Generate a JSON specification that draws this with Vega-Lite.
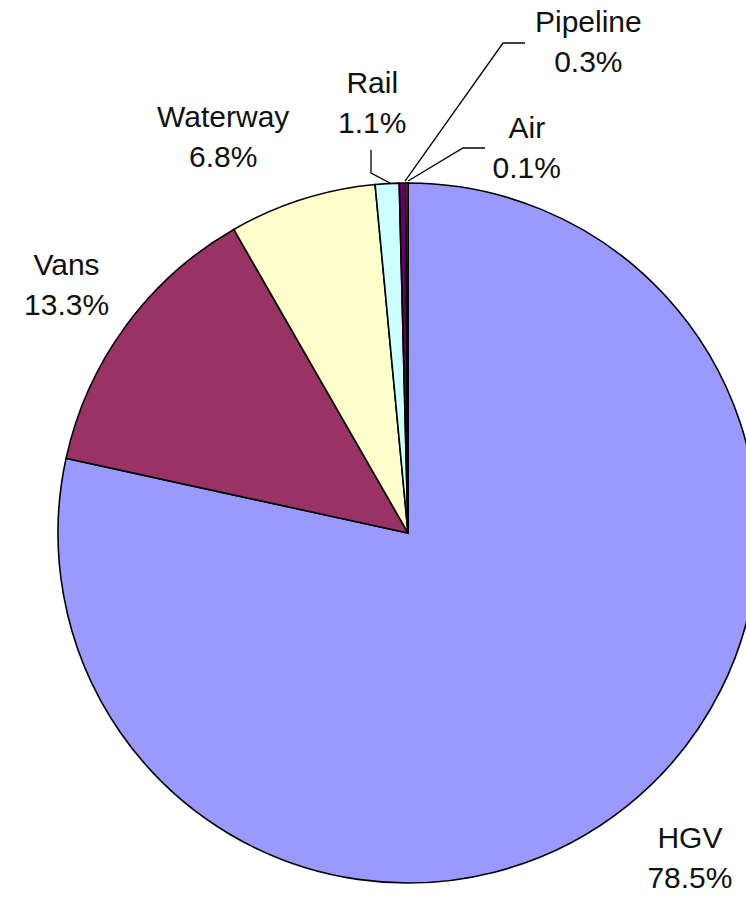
{
  "$schema": "https://vega.github.io/schema/vega-lite/v6.json",
  "width": 746,
  "height": 903,
  "autosize": {"type": "none"},
  "padding": 0,
  "background": "white",
  "config": {"view": {"stroke": null}, "text": {"font": "Liberation Sans"}},
  "datasets": {
    "modes": [
      {"mode": "HGV", "value": 78.5, "order": 1},
      {"mode": "Vans", "value": 13.3, "order": 2},
      {"mode": "Waterway", "value": 6.8, "order": 3},
      {"mode": "Rail", "value": 1.1, "order": 4},
      {"mode": "Pipeline", "value": 0.3, "order": 5},
      {"mode": "Air", "value": 0.1, "order": 6}
    ],
    "leaders": [
      {"seg": "Rail", "pt": 1, "x": -0.05143, "y": 1.0},
      {"seg": "Rail", "pt": 2, "x": -0.10571, "y": 1.02857},
      {"seg": "Rail", "pt": 3, "x": -0.10571, "y": 1.09429},
      {"seg": "Pipeline", "pt": 1, "x": -0.00857, "y": 1.00571},
      {"seg": "Pipeline", "pt": 2, "x": 0.27143, "y": 1.4},
      {"seg": "Pipeline", "pt": 3, "x": 0.33429, "y": 1.4},
      {"seg": "Air", "pt": 1, "x": 0.0, "y": 1.00571},
      {"seg": "Air", "pt": 2, "x": 0.15714, "y": 1.1},
      {"seg": "Air", "pt": 3, "x": 0.22, "y": 1.1}
    ]
  },
  "layer": [
    {
      "data": {"name": "modes"},
      "mark": {"type": "arc", "radius": 350, "stroke": "#000000", "strokeWidth": 1.6},
      "encoding": {
        "x": {"datum": 0, "type": "quantitative", "scale": {"domain": [-1.16571, 0.96571], "nice": false, "zero": false}, "axis": null},
        "y": {"datum": 0, "type": "quantitative", "scale": {"domain": [-1.05714, 1.52286], "nice": false, "zero": false}, "axis": null},
        "theta": {"field": "value", "type": "quantitative", "stack": true},
        "order": {"field": "order", "type": "quantitative"},
        "color": {"field": "mode", "type": "nominal", "legend": null,
          "scale": {"domain": ["HGV", "Vans", "Waterway", "Rail", "Pipeline", "Air"],
                    "range": ["#9999FF", "#993366", "#FFFFCC", "#CCFFFF", "#660066", "#FF8080"]}}
      }
    },
    {
      "data": {"name": "modes"},
      "transform": [{"calculate": "datum.mode + '\\n' + format(datum.value, '.1f') + '%'", "as": "txt"}],
      "mark": {"type": "text", "fontSize": 30, "lineHeight": 40, "lineBreak": "\n", "align": "center", "baseline": "middle", "color": "#111111", "radius": 432, "dx": 11, "dy": -30},
      "encoding": {
        "x": {"datum": 0, "type": "quantitative"},
        "y": {"datum": 0, "type": "quantitative"},
        "theta": {"field": "value", "type": "quantitative", "stack": true},
        "order": {"field": "order", "type": "quantitative"},
        "text": {"condition": {"test": "datum.mode === 'HGV'", "field": "txt"}, "value": ""}
      }
    },
    {
      "data": {"name": "modes"},
      "transform": [{"calculate": "datum.mode + '\\n' + format(datum.value, '.1f') + '%'", "as": "txt"}],
      "mark": {"type": "text", "fontSize": 30, "lineHeight": 40, "lineBreak": "\n", "align": "center", "baseline": "middle", "color": "#111111", "radius": 432, "dx": 7, "dy": -12},
      "encoding": {
        "x": {"datum": 0, "type": "quantitative"},
        "y": {"datum": 0, "type": "quantitative"},
        "theta": {"field": "value", "type": "quantitative", "stack": true},
        "order": {"field": "order", "type": "quantitative"},
        "text": {"condition": {"test": "datum.mode === 'Vans'", "field": "txt"}, "value": ""}
      }
    },
    {
      "data": {"name": "modes"},
      "transform": [{"calculate": "datum.mode + '\\n' + format(datum.value, '.1f') + '%'", "as": "txt"}],
      "mark": {"type": "text", "fontSize": 30, "lineHeight": 40, "lineBreak": "\n", "align": "center", "baseline": "middle", "color": "#111111", "radius": 432, "dx": -54, "dy": -3},
      "encoding": {
        "x": {"datum": 0, "type": "quantitative"},
        "y": {"datum": 0, "type": "quantitative"},
        "theta": {"field": "value", "type": "quantitative", "stack": true},
        "order": {"field": "order", "type": "quantitative"},
        "text": {"condition": {"test": "datum.mode === 'Waterway'", "field": "txt"}, "value": ""}
      }
    },
    {
      "data": {"name": "modes"},
      "transform": [{"calculate": "datum.mode + '\\n' + format(datum.value, '.1f') + '%'", "as": "txt"}],
      "mark": {"type": "text", "fontSize": 30, "lineHeight": 40, "lineBreak": "\n", "align": "center", "baseline": "middle", "color": "#111111", "radius": 432, "dx": -10, "dy": -18},
      "encoding": {
        "x": {"datum": 0, "type": "quantitative"},
        "y": {"datum": 0, "type": "quantitative"},
        "theta": {"field": "value", "type": "quantitative", "stack": true},
        "order": {"field": "order", "type": "quantitative"},
        "text": {"condition": {"test": "datum.mode === 'Rail'", "field": "txt"}, "value": ""}
      }
    },
    {
      "data": {"name": "modes"},
      "transform": [{"calculate": "datum.mode + '\\n' + format(datum.value, '.1f') + '%'", "as": "txt"}],
      "mark": {"type": "text", "fontSize": 30, "lineHeight": 40, "lineBreak": "\n", "align": "center", "baseline": "middle", "color": "#111111", "radius": 489, "dx": 188, "dy": -21},
      "encoding": {
        "x": {"datum": 0, "type": "quantitative"},
        "y": {"datum": 0, "type": "quantitative"},
        "theta": {"field": "value", "type": "quantitative", "stack": true},
        "order": {"field": "order", "type": "quantitative"},
        "text": {"condition": {"test": "datum.mode === 'Pipeline'", "field": "txt"}, "value": ""}
      }
    },
    {
      "data": {"name": "modes"},
      "transform": [{"calculate": "datum.mode + '\\n' + format(datum.value, '.1f') + '%'", "as": "txt"}],
      "mark": {"type": "text", "fontSize": 30, "lineHeight": 40, "lineBreak": "\n", "align": "center", "baseline": "middle", "color": "#111111", "radius": 385, "dx": 120, "dy": -19},
      "encoding": {
        "x": {"datum": 0, "type": "quantitative"},
        "y": {"datum": 0, "type": "quantitative"},
        "theta": {"field": "value", "type": "quantitative", "stack": true},
        "order": {"field": "order", "type": "quantitative"},
        "text": {"condition": {"test": "datum.mode === 'Air'", "field": "txt"}, "value": ""}
      }
    },
    {
      "data": {"name": "leaders"},
      "mark": {"type": "line", "stroke": "#000000", "strokeWidth": 1.3},
      "encoding": {
        "x": {"field": "x", "type": "quantitative"},
        "y": {"field": "y", "type": "quantitative"},
        "detail": {"field": "seg", "type": "nominal"},
        "order": {"field": "pt", "type": "quantitative"}
      }
    }
  ]
}
